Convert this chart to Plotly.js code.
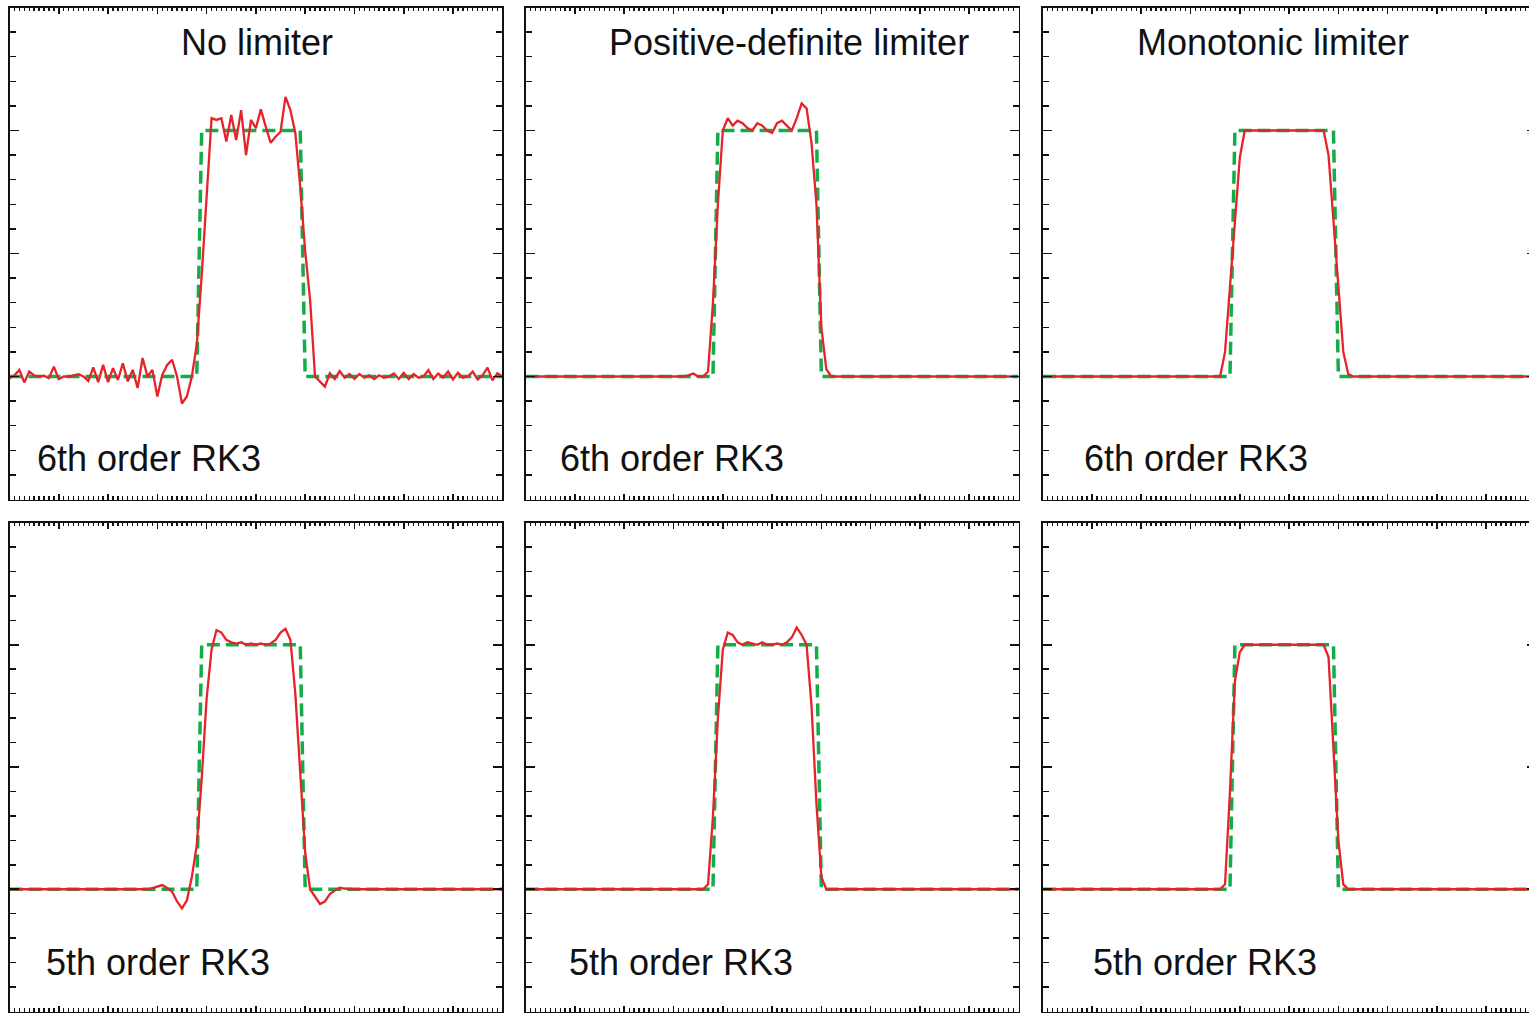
<!DOCTYPE html>
<html>
<head>
<meta charset="utf-8">
<script src="https://cdn.plot.ly/plotly-3.0.1.min.js"></script>
<style>
html, body { margin: 0; padding: 0; overflow: hidden; background: #fff; }
#chart { width: 1545px; height: 1013px; }
</style>
</head>
<body>
<div id="chart"></div>
<script>
// ---------- data ----------
// grid points (cell index) 0..100
const gridX = [0,1,2,3,4,5,6,7,8,9,10,11,12,13,14,15,16,17,18,19,20,21,22,23,24,25,26,27,28,29,30,31,32,33,34,35,36,37,38,39,40,41,42,43,44,45,46,47,48,49,50,51,52,53,54,55,56,57,58,59,60,61,62,63,64,65,66,67,68,69,70,71,72,73,74,75,76,77,78,79,80,81,82,83,84,85,86,87,88,89,90,91,92,93,94,95,96,97,98,99,100];

// exact solution (square wave)
const exactX = [0, 38, 39, 59, 60, 100];
const exactY = [0, 0, 1, 1, 0, 0];

const panelTitles = ["No limiter", "Positive-definite limiter", "Monotonic limiter"];
const rowLabels = ["6th order RK3", "5th order RK3"];

// 6th order RK3, no limiter
const noLim6 = [-0.007,0.005,0.027,-0.024,0.02,0.004,0.0,0.003,-0.007,0.04,
 -0.011,0.0,0.0,0.004,0.009,0.0,-0.018,0.037,-0.023,0.047,
 -0.023,0.034,-0.014,0.054,-0.02,0.027,-0.047,0.075,0.0,0.027,
 -0.081,0.007,0.047,0.068,0.0,-0.11,-0.08,0.0,0.13,0.41,
 0.72,1.05,1.043,1.05,0.955,1.063,0.961,1.083,0.90,1.043,
 1.009,1.086,1.016,0.95,0.975,0.995,1.137,1.083,0.99,0.77,
 0.51,0.31,0.0,-0.021,-0.041,0.013,-0.01,0.022,-0.005,0.01,
 -0.01,0.01,-0.005,0.005,-0.01,0.005,-0.005,0.0,0.012,-0.01,
 0.015,-0.01,0.01,-0.005,0.0,0.026,-0.01,0.012,-0.005,0.02,
 -0.012,0.015,-0.005,0.0,0.02,-0.012,0.005,0.036,-0.016,0.013,
 0.0];

// 6th order RK3, positive-definite limiter
const pd6 = [0,0,0,0,0,0,0,0,0,0,
 0,0,0,0,0,0,0,0,0,0,
 0,0,0,0,0,0,0,0,0,0,
 0,0,0,0.005,0.012,0.0,0.0,0.02,0.3,0.7,
 1.0,1.05,1.02,1.04,1.03,1.01,1.0,1.03,1.02,1.0,
 0.99,1.03,1.04,1.02,1.0,1.05,1.11,1.09,0.95,0.7,
 0.2,0.03,0,0,0,0,0,0,0,0,
 0,0,0,0,0,0,0,0,0,0,
 0,0,0,0,0,0,0,0,0,0,
 0,0,0,0,0,0,0,0,0,0,
 0];

// 6th order RK3, monotonic limiter
const mono6 = [0,0,0,0,0,0,0,0,0,0,
 0,0,0,0,0,0,0,0,0,0,
 0,0,0,0,0,0,0,0,0,0,
 0,0,0,0,0,0,0,0.1,0.36,0.63,
 0.89,1.0,1.0,1.0,1.0,1.0,1.0,1.0,1.0,1.0,
 1.0,1.0,1.0,1.0,1.0,1.0,1.0,1.0,0.9,0.64,
 0.37,0.1,0.01,0,0,0,0,0,0,0,
 0,0,0,0,0,0,0,0,0,0,
 0,0,0,0,0,0,0,0,0,0,
 0,0,0,0,0,0,0,0,0,0,
 0];

// 5th order RK3, no limiter
const noLim5 = [0,0,0,0,0,0,0,0,0,0,
 0,0,0,0,0,0,0,0,0,0,
 0,0,0,0,0,0,0,0,0,0.005,
 0.01,0.017,0.005,-0.01,-0.05,-0.078,-0.045,0.05,0.18,0.45,
 0.78,0.98,1.06,1.05,1.02,1.01,1.005,1.01,1.0,1.005,
 1.0,1.005,1.0,1.005,1.02,1.05,1.065,1.02,0.8,0.45,
 0.15,0.0,-0.03,-0.06,-0.05,-0.02,-0.005,0.006,0.003,0.0,
 0,0,0,0,0,0,0,0,0,0,
 0,0,0,0,0,0,0,0,0,0,
 0,0,0,0,0,0,0,0,0,0,
 0];

// 5th order RK3, positive-definite limiter
const pd5 = [0,0,0,0,0,0,0,0,0,0,
 0,0,0,0,0,0,0,0,0,0,
 0,0,0,0,0,0,0,0,0,0,
 0,0,0,0,0,0,0,0.02,0.3,0.7,
 0.98,1.05,1.04,1.01,1.0,1.01,1.005,1.0,1.01,1.0,
 1.0,1.005,1.0,1.01,1.03,1.07,1.04,1.0,0.75,0.35,
 0.05,0.0,0,0,0,0,0,0,0,0,
 0,0,0,0,0,0,0,0,0,0,
 0,0,0,0,0,0,0,0,0,0,
 0,0,0,0,0,0,0,0,0,0,
 0];

// 5th order RK3, monotonic limiter
const mono5 = [0,0,0,0,0,0,0,0,0,0,
 0,0,0,0,0,0,0,0,0,0,
 0,0,0,0,0,0,0,0,0,0,
 0,0,0,0,0,0,0,0.02,0.4,0.85,
 0.97,1.0,1.0,1.0,1.0,1.0,1.0,1.0,1.0,1.0,
 1.0,1.0,1.0,1.0,1.0,1.0,1.0,1.0,0.95,0.6,
 0.2,0.02,0,0,0,0,0,0,0,0,
 0,0,0,0,0,0,0,0,0,0,
 0,0,0,0,0,0,0,0,0,0,
 0,0,0,0,0,0,0,0,0,0,
 0];

const panelSeries = [noLim6, pd6, mono6, noLim5, pd5, mono5];

// ---------- layout ----------
const W = 1545, H = 1013;
const colPx = [[9.5, 502.3], [525.7, 1018.5], [1042.7, 1535.5]];
const rowPx = [[7.5, 499.5], [522.5, 1011.5]];
const fx = p => p / W;
const fy = p => 1 - p / H;

const GREEN = '#12ad48';
const RED = '#e6222a';

const traces = [];
const layout = {
  width: W, height: H,
  margin: {l: 0, r: 0, t: 0, b: 0, pad: 0},
  paper_bgcolor: '#ffffff', plot_bgcolor: '#ffffff',
  showlegend: false,
  font: {family: 'Liberation Sans, Arial, Helvetica, sans-serif', color: '#111'},
  annotations: []
};

for (let r = 0; r < 2; r++) {
  for (let c = 0; c < 3; c++) {
    const k = r * 3 + c + 1;
    const xa = 'x' + (k === 1 ? '' : k), ya = 'y' + (k === 1 ? '' : k);
    traces.push({
      x: exactX, y: exactY, xaxis: xa, yaxis: ya, type: 'scatter', mode: 'lines',
      line: {color: GREEN, width: 3.5, dash: '13px,6px'}, hoverinfo: 'skip'
    });
    traces.push({
      x: gridX, y: panelSeries[k - 1], xaxis: xa, yaxis: ya, type: 'scatter', mode: 'lines',
      line: {color: RED, width: 2.3}, hoverinfo: 'skip'
    });
    const common = {
      showline: true, linecolor: '#111', linewidth: 1.9, mirror: 'ticks',
      ticks: 'inside', tickcolor: '#111', showticklabels: false,
      showgrid: false, zeroline: false, fixedrange: true
    };
    layout['xaxis' + (k === 1 ? '' : k)] = Object.assign({}, common, {
      domain: [fx(colPx[c][0]), fx(colPx[c][1])], anchor: ya,
      range: [0, 100], tick0: 0, dtick: 10, ticklen: 6, tickwidth: 1.6,
      minor: {dtick: 1, ticklen: 3.5, tickwidth: 1.3, tickcolor: '#111', ticks: 'inside', showgrid: false}
    });
    layout['yaxis' + (k === 1 ? '' : k)] = Object.assign({}, common, {
      domain: [fy(rowPx[r][1]), fy(rowPx[r][0])], anchor: xa,
      range: [-0.5, 1.5], tick0: -0.5, dtick: 0.5, ticklen: 9, tickwidth: 1.6,
      minor: {dtick: 0.1, ticklen: 6, tickwidth: 1.5, tickcolor: '#111', ticks: 'inside', showgrid: false}
    });
  }
}

// titles and row labels
const titleLeft = [179, 607, 1135];
titleLeft.forEach((x, i) => {
  layout.annotations.push({
    text: panelTitles[i], xref: 'paper', yref: 'paper', x: fx(x), y: fy(42),
    xanchor: 'left', yanchor: 'middle', showarrow: false,
    font: {size: 36, color: '#111', family: 'Liberation Sans, Arial, sans-serif'}
  });
});
const labelPos = [
  [[35, 458], [558, 458], [1082, 458]],
  [[44, 962], [567, 962], [1091, 962]]
];
for (let r = 0; r < 2; r++) {
  labelPos[r].forEach(p => {
    layout.annotations.push({
      text: rowLabels[r], xref: 'paper', yref: 'paper', x: fx(p[0]), y: fy(p[1]),
      xanchor: 'left', yanchor: 'middle', showarrow: false,
      font: {size: 36, color: '#111', family: 'Liberation Sans, Arial, sans-serif'}
    });
  });
}

Plotly.newPlot('chart', traces, layout, {displayModeBar: false, staticPlot: true});
</script>
</body>
</html>
